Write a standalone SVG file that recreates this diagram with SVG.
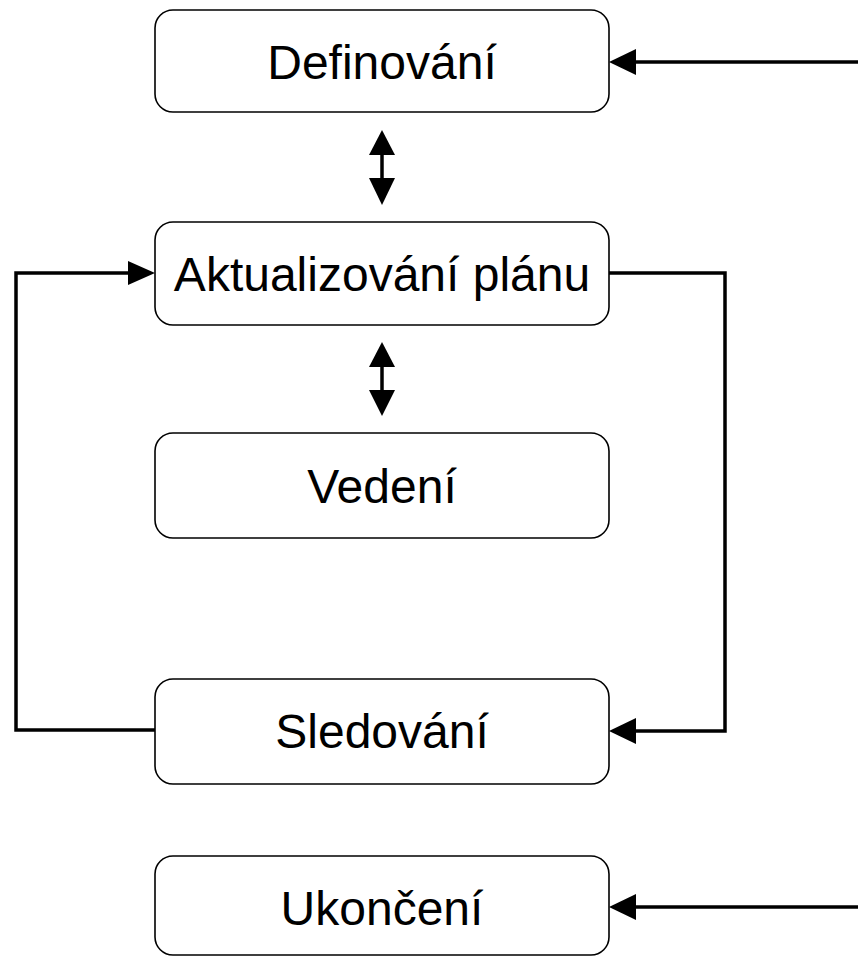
<svg xmlns="http://www.w3.org/2000/svg" width="858" height="958" viewBox="0 0 858 958">
<style>
.box{fill:#fff;stroke:#000;stroke-width:1.6}
.lbl{font-family:"Liberation Sans",Arial,sans-serif;font-size:48px;fill:#000;text-anchor:middle}
.conn{fill:none;stroke:#000;stroke-width:3.5}
.head{fill:#000;stroke:none}
</style>
<rect width="858" height="958" fill="#fff"/>
<g id="connectors">
<line class="conn" x1="858" y1="62" x2="634" y2="62"/>
<polygon class="head" points="609,62 636,49 636,75"/>
<line class="conn" x1="382" y1="152" x2="382" y2="182"/>
<polygon class="head" points="382,130 369,155 395,155"/>
<polygon class="head" points="382,205 369,178 395,178"/>
<line class="conn" x1="382" y1="364" x2="382" y2="392"/>
<polygon class="head" points="382,342 369,367 395,367"/>
<polygon class="head" points="382,416 369,390 395,390"/>
<polyline class="conn" points="155,730 16,730 16,273 130,273"/>
<polygon class="head" points="155,273 128,261 128,285"/>
<polyline class="conn" points="609,273 725,273 725,731 634,731"/>
<polygon class="head" points="609,731 636,718 636,744"/>
<line class="conn" x1="858" y1="907" x2="634" y2="907"/>
<polygon class="head" points="609,907 636,894 636,920"/>
</g>
<g id="definovani">
<rect class="box" x="155" y="10" width="454" height="102" rx="18"/>
<text class="lbl" x="382" y="79">Definování</text>
</g>
<g id="aktualizovani">
<rect class="box" x="155" y="222" width="454" height="103" rx="18"/>
<text class="lbl" x="382" y="291">Aktualizování plánu</text>
</g>
<g id="vedeni">
<rect class="box" x="155" y="433" width="454" height="105" rx="18"/>
<text class="lbl" x="382" y="503">Vedení</text>
</g>
<g id="sledovani">
<rect class="box" x="155" y="679" width="454" height="105" rx="18"/>
<text class="lbl" x="382" y="748">Sledování</text>
</g>
<g id="ukonceni">
<rect class="box" x="155" y="856" width="454" height="99" rx="18"/>
<text class="lbl" x="382" y="925">Ukončení</text>
</g>
</svg>
